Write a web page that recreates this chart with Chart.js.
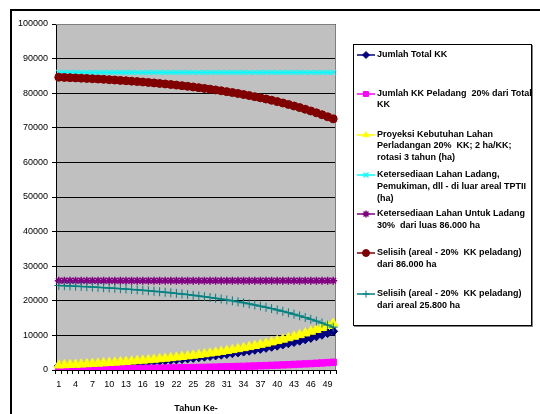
<!DOCTYPE html>
<html>
<head>
<meta charset="utf-8">
<script src="https://cdn.jsdelivr.net/npm/chart.js@4.4.0/dist/chart.umd.min.js"></script>
<style>
  html, body { margin: 0; padding: 0; background: #fff; }
  #wrap { position: relative; width: 540px; height: 414px; overflow: hidden; }
  #chart { position: absolute; left: 0; top: 0; }
  #legend {
    position: absolute; left: 353px; top: 44px; width: 177px; height: 280px;
    border: 1px solid #000; box-shadow: 1px 1px 0 #808080; background: #fff;
  }
  .item { position: absolute; left: 0; width: 177px; }
  .item canvas { position: absolute; left: 2px; top: 0; }
  .item span {
    position: absolute; left: 23px; top: 0; white-space: pre;
    font: bold 9px 'Liberation Sans', Arial, sans-serif; line-height: 11.7px; color: #000;
  }
</style>
</head>
<body>
<div id="wrap">
  <canvas id="chart" width="540" height="414"></canvas>
  <div id="legend"></div>
</div>
<script>
// Tahun ke-1 .. ke-50
const years = [
  1, 2, 3, 4, 5, 6, 7, 8, 9, 10, 11, 12, 13, 14, 15, 16, 17, 18, 19, 20, 21, 22, 23, 24, 25,
  26, 27, 28, 29, 30, 31, 32, 33, 34, 35, 36, 37, 38, 39, 40, 41, 42, 43, 44, 45, 46, 47, 48, 49, 50,
];

const jumlahTotalKK = [
  1150, 1205, 1262, 1321, 1384, 1450, 1519, 1591, 1666, 1746, 1829, 1915, 2006, 2102, 2201,
  2306, 2416, 2531, 2651, 2777, 2909, 3047, 3192, 3343, 3502, 3669, 3843, 4026, 4217, 4417,
  4627, 4847, 5077, 5318, 5571, 5836, 6113, 6403, 6707, 7026, 7360, 7709, 8076, 8459, 8861,
  9282, 9723, 10185, 10669, 11176,
];

const kkPeladang = [
  230, 241, 252, 264, 277, 290, 304, 318, 333, 349, 366, 383, 401, 420, 440,
  461, 483, 506, 530, 555, 582, 609, 638, 669, 700, 734, 769, 805, 843, 883,
  925, 969, 1015, 1064, 1114, 1167, 1223, 1281, 1341, 1405, 1472, 1542, 1615, 1692, 1772,
  1856, 1945, 2037, 2134, 2235,
];

const proyeksiLahan = [
  1380, 1446, 1514, 1585, 1661, 1740, 1823, 1909, 1999, 2095, 2195, 2298, 2407, 2522, 2641,
  2767, 2899, 3037, 3181, 3332, 3491, 3656, 3830, 4012, 4202, 4403, 4612, 4831, 5060, 5300,
  5552, 5816, 6092, 6382, 6685, 7003, 7336, 7684, 8048, 8431, 8832, 9251, 9691, 10151, 10633,
  11138, 11668, 12222, 12803, 13411,
];

const lahanLuarTPTII = [
  86000, 86000, 86000, 86000, 86000, 86000, 86000, 86000, 86000, 86000, 86000, 86000, 86000,
  86000, 86000, 86000, 86000, 86000, 86000, 86000, 86000, 86000, 86000, 86000, 86000, 86000,
  86000, 86000, 86000, 86000, 86000, 86000, 86000, 86000, 86000, 86000, 86000, 86000, 86000,
  86000, 86000, 86000, 86000, 86000, 86000, 86000, 86000, 86000, 86000, 86000,
];

const lahanUntukLadang = [
  25800, 25800, 25800, 25800, 25800, 25800, 25800, 25800, 25800, 25800, 25800, 25800, 25800,
  25800, 25800, 25800, 25800, 25800, 25800, 25800, 25800, 25800, 25800, 25800, 25800, 25800,
  25800, 25800, 25800, 25800, 25800, 25800, 25800, 25800, 25800, 25800, 25800, 25800, 25800,
  25800, 25800, 25800, 25800, 25800, 25800, 25800, 25800, 25800, 25800, 25800,
];

const selisih86000 = [
  84620, 84554, 84486, 84415, 84339, 84260, 84177, 84091, 84001, 83905, 83805, 83702, 83593,
  83478, 83359, 83233, 83101, 82963, 82819, 82668, 82509, 82344, 82170, 81988, 81798, 81597,
  81388, 81169, 80940, 80700, 80448, 80184, 79908, 79618, 79315, 78997, 78664, 78316, 77952,
  77569, 77168, 76749, 76309, 75849, 75367, 74862, 74332, 73778, 73197, 72589,
];

const selisih25800 = [
  24420, 24354, 24286, 24215, 24139, 24060, 23977, 23891, 23801, 23705, 23605, 23502, 23393,
  23278, 23159, 23033, 22901, 22763, 22619, 22468, 22309, 22144, 21970, 21788, 21598, 21397,
  21188, 20969, 20740, 20500, 20248, 19984, 19708, 19418, 19115, 18797, 18464, 18116, 17752,
  17369, 16968, 16549, 16109, 15649, 15167, 14662, 14132, 13578, 12997, 12389,
];

// Teks legenda, baris per baris seperti di gambar
const legendLines = [
  ['Jumlah Total KK'],
  ['Jumlah KK Peladang  20% dari Total', 'KK'],
  ['Proyeksi Kebutuhan Lahan', 'Perladangan 20%  KK; 2 ha/KK;', 'rotasi 3 tahun (ha)'],
  ['Ketersediaan Lahan Ladang,', 'Pemukiman, dll - di luar areal TPTII', '(ha)'],
  ['Ketersediaan Lahan Untuk Ladang', '30%  dari luas 86.000 ha'],
  ['Selisih (areal - 20%  KK peladang)', 'dari 86.000 ha'],
  ['Selisih (areal - 20%  KK peladang)', 'dari areal 25.800 ha'],
];

const yTicks = [0, 10000, 20000, 30000, 40000, 50000, 60000, 70000, 80000, 90000, 100000];

const FONT = "'Liberation Sans', Arial, sans-serif";

function series(i, data, color, pointStyle, radius, borderWidth) {
  return {
    label: legendLines[i].join(' '),
    data,
    borderColor: color,
    backgroundColor: color,
    borderWidth: 1.5,
    pointStyle,
    pointRadius: radius,
    pointBorderWidth: borderWidth,
    pointBackgroundColor: color,
    pointBorderColor: color,
    // Seri yang belakangan digambar di atas, seperti di Excel
    order: 7 - i,
  };
}

const datasets = [
  series(0, jumlahTotalKK, '#000080', 'rectRot', 4.5, 1),
  series(1, kkPeladang, '#FF00FF', 'rect', 4.5, 1),
  series(2, proyeksiLahan, '#FFFF00', 'triangle', 5.5, 1),
  series(3, lahanLuarTPTII, '#00FFFF', 'crossRot', 3.5, 1.2),
  series(4, lahanUntukLadang, '#800080', 'star', 4, 1.5),
  series(5, selisih86000, '#800000', 'circle', 4, 1),
  series(6, selisih25800, '#008080', 'cross', 4.5, 1),
];

const plotFrame = {
  id: 'plotFrame',
  beforeDraw(chart) {
    const { ctx, chartArea: a } = chart;
    ctx.save();
    ctx.fillStyle = '#fff';
    ctx.fillRect(0, 0, chart.width, chart.height);
    ctx.fillStyle = '#C0C0C0';
    ctx.fillRect(a.left, a.top, a.right - a.left, a.bottom - a.top);
    // bingkai luar grafik (hanya sisi kiri dan atas yang terlihat)
    ctx.strokeStyle = '#000';
    ctx.lineWidth = 2;
    ctx.beginPath();
    ctx.moveTo(11, 414);
    ctx.lineTo(11, 10);
    ctx.lineTo(540, 10);
    ctx.stroke();
    ctx.restore();
  },
  beforeDatasetsDraw(chart) {
    const { ctx, chartArea: a } = chart;
    ctx.save();
    ctx.strokeStyle = '#808080';
    ctx.lineWidth = 1;
    ctx.beginPath();
    ctx.moveTo(a.left, a.top + 0.5);
    ctx.lineTo(a.right - 0.5, a.top + 0.5);
    ctx.lineTo(a.right - 0.5, a.bottom);
    ctx.stroke();
    ctx.restore();
  },
};

// eslint-disable-next-line no-undef
const chart = new Chart(document.getElementById('chart'), {
  type: 'line',
  data: { labels: years, datasets },
  plugins: [plotFrame],
  options: {
    responsive: false,
    animation: false,
    events: [],
    layout: { padding: { left: 0, top: 24, right: 204, bottom: 0 } },
    plugins: { legend: { display: false }, tooltip: { enabled: false } },
    scales: {
      x: {
        type: 'category',
        offset: true,
        afterFit(scale) {
          scale.height = 44;
        },
        grid: {
          offset: true,
          drawOnChartArea: false,
          drawTicks: true,
          tickLength: 4,
          color: '#000',
        },
        border: { display: true, color: '#000', width: 1 },
        ticks: {
          autoSkip: false,
          maxRotation: 0,
          padding: 5,
          color: '#000',
          font: { family: FONT, size: 9 },
          callback(value, index) {
            return index % 3 === 0 ? String(this.getLabelForValue(value)) : '';
          },
        },
        title: {
          display: true,
          text: 'Tahun Ke-',
          color: '#000',
          font: { family: FONT, size: 9, weight: 'bold' },
          padding: { top: 0, bottom: 0 },
        },
      },
      y: {
        min: 0,
        max: 100000,
        afterFit(scale) {
          scale.width = 56;
        },
        afterBuildTicks(scale) {
          scale.ticks = yTicks.map((v) => ({ value: v }));
        },
        grid: { color: '#000', lineWidth: 1, drawTicks: true, tickLength: 4 },
        border: { display: true, color: '#000', width: 1 },
        ticks: {
          padding: 4,
          color: '#000',
          font: { family: FONT, size: 9 },
          callback: (v) => String(v),
        },
      },
    },
  },
});

// Legenda HTML dengan penanda yang digambar lewat helper Chart.js
const legendTops = [4.2, 42.5, 83.5, 124.2, 163.2, 202, 243.2];
const legendEl = document.getElementById('legend');
datasets.forEach((ds, i) => {
  const item = document.createElement('div');
  item.className = 'item';
  item.style.top = `${legendTops[i]}px`;
  const c = document.createElement('canvas');
  c.width = 20;
  c.height = 12;
  const cx = c.getContext('2d');
  cx.strokeStyle = ds.borderColor;
  cx.fillStyle = ds.backgroundColor;
  cx.lineWidth = 1.5;
  cx.beginPath();
  cx.moveTo(1, 6);
  cx.lineTo(19, 6);
  cx.stroke();
  // eslint-disable-next-line no-undef
  if (Chart.helpers && Chart.helpers.drawPoint) {
    cx.lineWidth = ds.pointBorderWidth;
    // eslint-disable-next-line no-undef
    Chart.helpers.drawPoint(cx, {
      pointStyle: ds.pointStyle,
      radius: Math.min(ds.pointRadius, 3.5),
      rotation: 0,
      borderWidth: ds.pointBorderWidth,
    }, 10, 6);
  }
  const span = document.createElement('span');
  span.textContent = legendLines[i].join('\n');
  item.appendChild(c);
  item.appendChild(span);
  legendEl.appendChild(item);
});
</script>
</body>
</html>
